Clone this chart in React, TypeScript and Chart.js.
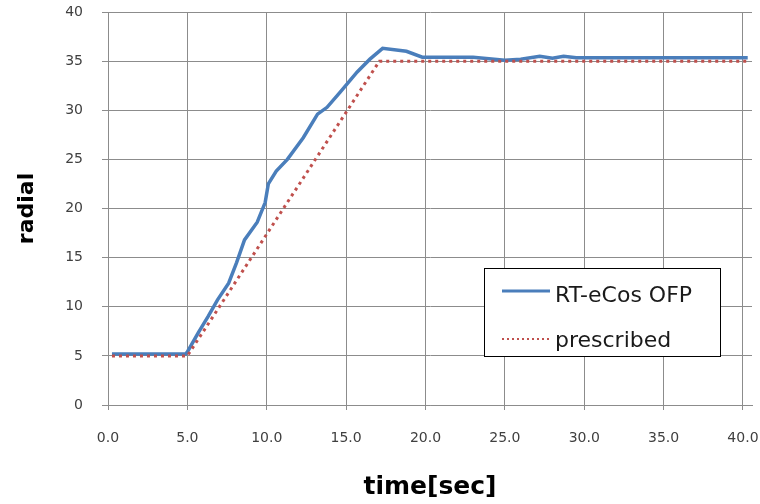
import React, { useEffect, useRef } from "react";
import { Chart, registerables } from "chart.js";

Chart.register(...registerables);

const blueTime = [0.25, 4.9, 5.0, 5.7, 6.3, 6.9, 7.6, 8.1, 8.6, 9.4, 9.9, 10.1, 10.6, 11.3, 12.3, 13.2, 13.8, 14.6, 15.7, 16.5, 17.3, 18.8, 19.8, 23.0, 25.0, 26.0, 27.2, 28.0, 28.7, 29.5, 40.3];
const blueRadial = [5.2, 5.2, 5.4, 7.4, 9.0, 10.7, 12.4, 14.5, 16.8, 18.6, 20.6, 22.5, 23.8, 25.0, 27.2, 29.6, 30.3, 31.8, 33.9, 35.2, 36.3, 36.0, 35.4, 35.4, 35.1, 35.2, 35.5, 35.3, 35.5, 35.35, 35.35];

const redTime = [0.25, 5.0, 17.1, 40.4];
const redRadial = [5.0, 5.0, 35.0, 35.0];

const xTickValues = [0, 5, 10, 15, 20, 25, 30, 35, 40];
const yTickValues = [0, 5, 10, 15, 20, 25, 30, 35, 40];

const seriesLabels = ["RT-eCos OFP", "prescribed"];
const xTitle = "time[sec]";
const yTitle = "radial";

const BLUE = "#4A7EBB";
const RED = "#C0504D";
const GRID = "#8c8c8c";

const legendPlugin = {
  id: "boxLegend",
  afterDraw(chart: any) {
    const ctx = chart.ctx;
    const ds = chart.data.datasets;
    ctx.save();
    ctx.fillStyle = "#ffffff";
    ctx.fillRect(484, 268, 236, 88);
    ctx.strokeStyle = "#000000";
    ctx.lineWidth = 1;
    ctx.setLineDash([]);
    ctx.strokeRect(484.5, 268.5, 236, 88);
    const rows = [
      { y: 291, base: 302, ds: ds[0], lw: 3, dash: [] as number[] },
      { y: 339, base: 347, ds: ds[1], lw: 2, dash: [2, 3] },
    ];
    rows.forEach((r) => {
      ctx.beginPath();
      ctx.strokeStyle = r.ds.borderColor;
      ctx.lineWidth = r.lw;
      ctx.setLineDash(r.dash);
      ctx.moveTo(502, r.y);
      ctx.lineTo(550, r.y);
      ctx.stroke();
      ctx.setLineDash([]);
      ctx.fillStyle = "#1a1a1a";
      ctx.font = '22px "DejaVu Sans"';
      ctx.textBaseline = "alphabetic";
      ctx.textAlign = "left";
      ctx.fillText(r.ds.label, 555, r.base);
    });
    ctx.restore();
  },
};

const xGridColor = (c: any) =>
  c.tick && xTickValues.includes(c.tick.value) ? GRID : "rgba(0,0,0,0)";

export default function App() {
  const ref = useRef<HTMLCanvasElement | null>(null);
  useEffect(() => {
    if (!ref.current) return;
    const chart = new Chart(ref.current, {
      type: "line",
      data: {
        datasets: [
          {
            label: seriesLabels[0],
            data: blueTime.map((t, i) => ({ x: t, y: blueRadial[i] })),
            borderColor: BLUE,
            backgroundColor: BLUE,
            borderWidth: 3.5,
            pointRadius: 0,
            tension: 0,
            order: 2,
          },
          {
            label: seriesLabels[1],
            data: redTime.map((t, i) => ({ x: t, y: redRadial[i] })),
            borderColor: RED,
            backgroundColor: RED,
            borderWidth: 3,
            borderDash: [3, 4],
            pointRadius: 0,
            tension: 0,
            order: 1,
          },
        ],
      },
      options: {
        responsive: false,
        animation: false,
        layout: { padding: { top: 12, right: 8, left: 0, bottom: 0 } },
        plugins: { legend: { display: false }, tooltip: { enabled: false } },
        scales: {
          x: {
            type: "linear",
            min: 0,
            max: 40.57,
            afterBuildTicks: (scale: any) => {
              scale.ticks = xTickValues.map((v) => ({ value: v }));
            },
            afterFit: (scale: any) => {
              scale.height = 99;
              scale.paddingLeft = 0;
              scale.paddingRight = 0;
            },
            ticks: {
              callback: (v: any) => Number(v).toFixed(1),
              font: { family: '"DejaVu Sans"', size: 14 },
              color: "#404040",
              padding: 20,
              maxRotation: 0,
              autoSkip: false,
            },
            grid: { color: xGridColor, lineWidth: 1, tickLength: 5 },
            border: { color: GRID, width: 1 },
            title: {
              display: true,
              text: xTitle,
              font: { family: '"DejaVu Sans"', size: 25, weight: "bold" },
              color: "#000000",
              padding: { top: 0, bottom: 2 },
            },
          },
          y: {
            min: 0,
            max: 40,
            afterBuildTicks: (scale: any) => {
              scale.ticks = yTickValues.map((v) => ({ value: v }));
            },
            afterFit: (scale: any) => {
              scale.width = 108;
              scale.paddingTop = 0;
              scale.paddingBottom = 0;
            },
            ticks: {
              font: { family: '"DejaVu Sans"', size: 14 },
              color: "#404040",
              padding: 19,
              autoSkip: false,
            },
            grid: { color: GRID, lineWidth: 1, tickLength: 6 },
            border: { color: GRID, width: 1 },
            title: {
              display: true,
              text: yTitle,
              font: { family: '"DejaVu Sans"', size: 22, weight: "bold" },
              color: "#000000",
              padding: { top: 14, bottom: 0 },
            },
          },
        },
      },
      plugins: [legendPlugin],
    });
    return () => chart.destroy();
  }, []);
  return (
    <div style={{ position: "absolute", left: 0, top: 0, width: 760, height: 504, background: "#fff" }}>
      <canvas ref={ref} width={760} height={504} />
    </div>
  );
}
